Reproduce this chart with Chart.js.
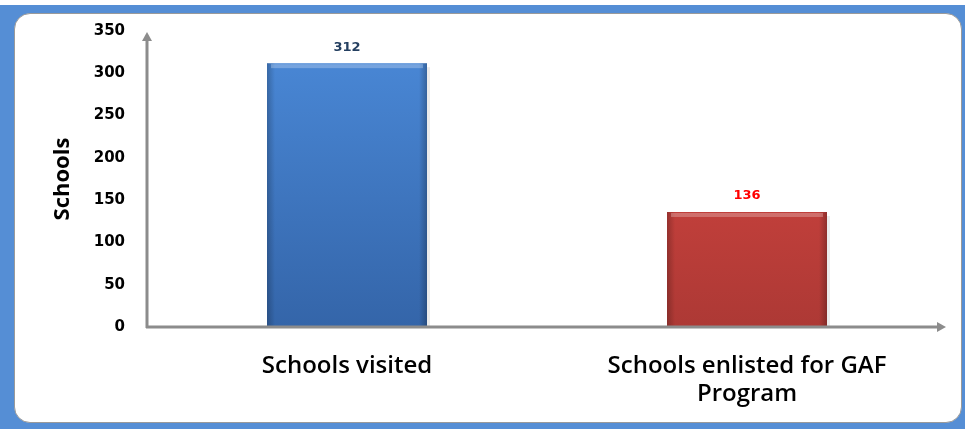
<!DOCTYPE html>
<html>
<head>
<meta charset="utf-8">
<script src="https://cdn.jsdelivr.net/npm/chart.js@4.4.1/dist/chart.umd.min.js"></script>
<style>
    body { margin: 0; background: #fff; }
    #wrap { position: relative; width: 965px; height: 429px; overflow: hidden; }
    #frame { position: absolute; left: 0; top: 5px; width: 965px; height: 424px; background: #558ed5; }
    #inner { position: absolute; left: 14px; top: 13px; width: 948px; height: 410px; background: #fff;
             border: 1.5px solid #9a9a9a; border-radius: 16px; box-sizing: border-box; }
    #chart { position: absolute; left: 0; top: 0; }
</style>
</head>
<body>
<div id="wrap">
    <div id="frame"></div>
    <div id="inner"></div>
    <canvas id="chart" width="965" height="429"></canvas>
</div>
<script>
// data
var categories = ['Schools visited', ['Schools enlisted for GAF', 'Program']];
var schools = [312, 136];
var yTicks = [0, 50, 100, 150, 200, 250, 300, 350];

var barTop = ['#4b8ad9', '#de4843'];
var barBottom = ['#3465a9', '#ad3935'];
var labelColors = ['#243f60', '#ff0000'];

// value labels + bevel shading on the bars
var barDecor = {
    id: 'barDecor',
    afterDatasetsDraw: function (chart) {
        var ctx = chart.ctx;
        var meta = chart.getDatasetMeta(0);
        meta.data.forEach(function (bar, i) {
            var left = bar.x - bar.width / 2;
            var right = bar.x + bar.width / 2;
            var top = bar.y;
            var bottom = bar.base;
            ctx.save();
            var g = ctx.createLinearGradient(left, 0, right, 0);
            g.addColorStop(0, 'rgba(0,0,0,0.22)');
            g.addColorStop(0.05, 'rgba(0,0,0,0.0)');
            g.addColorStop(0.95, 'rgba(0,0,0,0.0)');
            g.addColorStop(1, 'rgba(0,0,0,0.25)');
            ctx.fillStyle = g;
            ctx.fillRect(left, top, right - left, bottom - top);
            // top highlight
            ctx.fillStyle = 'rgba(255,255,255,0.25)';
            ctx.fillRect(left + 4, top + 1, right - left - 8, 4);
            // shadow on the right
            ctx.fillStyle = 'rgba(0,0,0,0.08)';
            ctx.fillRect(right, top + 4, 3, bottom - top - 4);

            ctx.font = 'bold 13px "DejaVu Sans"';
            ctx.fillStyle = labelColors[i];
            ctx.textAlign = 'center';
            ctx.textBaseline = 'middle';
            ctx.fillText(schools[i], bar.x, top - 16);
            ctx.restore();
        });
    }
};

// grey axis lines with arrow heads
var arrowAxes = {
    id: 'arrowAxes',
    afterDraw: function (chart) {
        var a = chart.chartArea;
        var ctx = chart.ctx;
        ctx.save();
        ctx.strokeStyle = '#8c8c8c';
        ctx.fillStyle = '#8c8c8c';
        ctx.lineWidth = 3;
        ctx.beginPath();
        ctx.moveTo(a.left, a.bottom + 1);
        ctx.lineTo(a.left, a.top + 8);
        ctx.moveTo(a.left - 1, a.bottom);
        ctx.lineTo(a.right - 8, a.bottom);
        ctx.stroke();
        ctx.beginPath();
        ctx.moveTo(a.left, a.top + 1);
        ctx.lineTo(a.left - 5, a.top + 10);
        ctx.lineTo(a.left + 5, a.top + 10);
        ctx.closePath();
        ctx.fill();
        ctx.beginPath();
        ctx.moveTo(a.right - 1, a.bottom);
        ctx.lineTo(a.right - 10, a.bottom - 5);
        ctx.lineTo(a.right - 10, a.bottom + 5);
        ctx.closePath();
        ctx.fill();
        ctx.restore();
    }
};

var ctx = document.getElementById('chart');

new Chart(ctx, {
    type: 'bar',
    data: {
        labels: categories,
        datasets: [{
            data: schools,
            backgroundColor: function (c) {
                var area = c.chart.chartArea;
                if (!area) return barTop[c.dataIndex];
                var g = c.chart.ctx.createLinearGradient(0, area.top, 0, area.bottom);
                g.addColorStop(0, barTop[c.dataIndex]);
                g.addColorStop(1, barBottom[c.dataIndex]);
                return g;
            },
            borderWidth: 0,
            barPercentage: 0.4,
            categoryPercentage: 1
        }]
    },
    options: {
        responsive: false,
        animation: false,
        layout: { padding: { left: 40, right: 18, top: 31, bottom: 0 } },
        plugins: {
            legend: { display: false },
            tooltip: { enabled: false }
        },
        scales: {
            x: {
                grid: { display: false, drawTicks: false },
                border: { display: false },
                ticks: {
                    color: '#000',
                    padding: 25,
                    maxRotation: 0,
                    font: { family: '"Open Sans"', size: 24, weight: '600', lineHeight: 1.17 }
                },
                afterFit: function (s) { s.height = 102; }
            },
            y: {
                min: 0,
                max: 350,
                grid: { display: false, drawTicks: false },
                border: { display: false },
                afterBuildTicks: function (s) {
                    s.ticks = yTicks.map(function (v) { return { value: v }; });
                },
                afterFit: function (s) { s.width = 107; },
                ticks: {
                    color: '#000',
                    padding: 22,
                    font: { family: '"DejaVu Sans"', size: 15, weight: 'bold' }
                },
                title: {
                    display: true,
                    text: 'Schools',
                    color: '#000',
                    padding: { top: 10, bottom: 0 },
                    font: { family: '"Open Sans"', size: 22, weight: 'bold' }
                }
            }
        }
    },
    plugins: [barDecor, arrowAxes]
});
</script>
</body>
</html>
